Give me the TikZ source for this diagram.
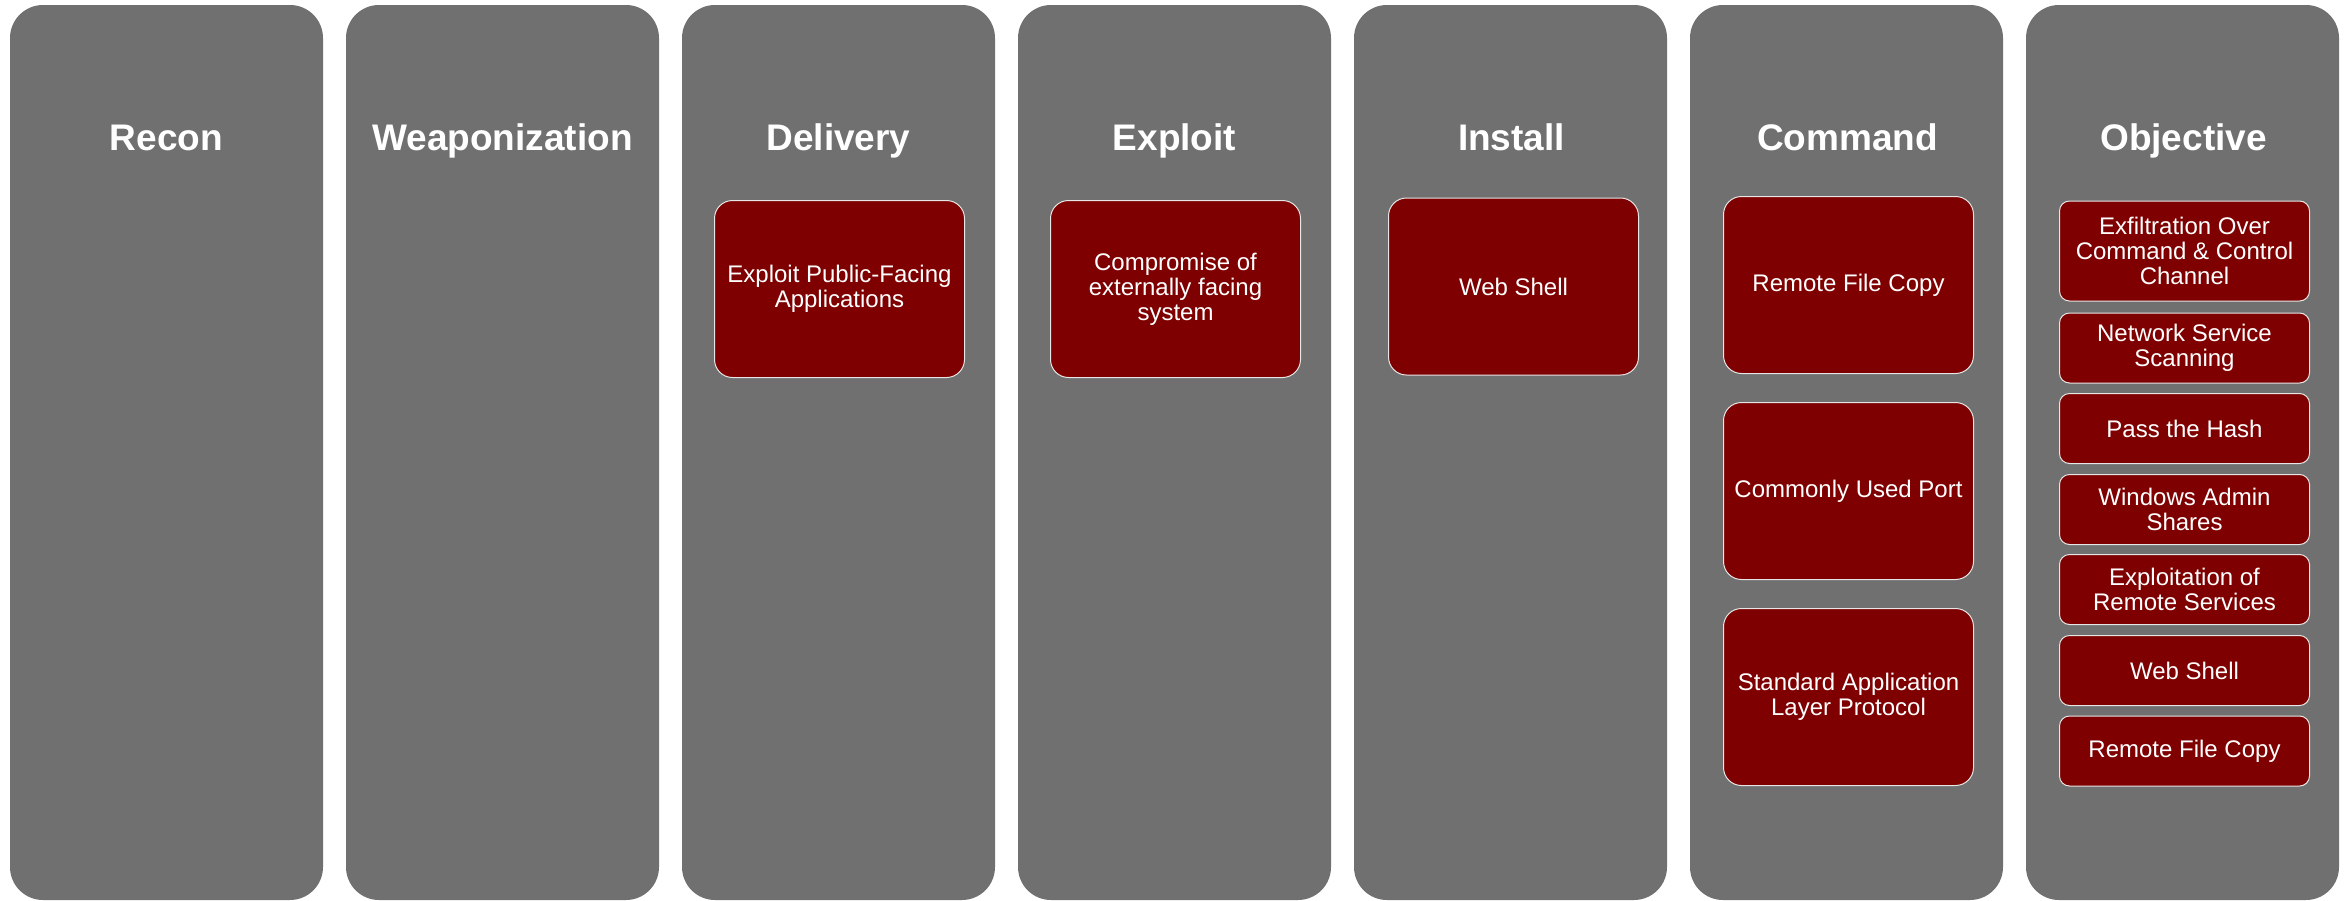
\documentclass[tikz,border=0pt]{standalone}
\usepackage{fontspec}
\setmainfont{Liberation Sans}
\definecolor{colgray}{HTML}{707070}
\definecolor{techred}{HTML}{7F0000}
\definecolor{edge}{HTML}{E6E6E6}
\begin{document}
\begin{tikzpicture}[x=1pt,y=-1pt,
  phase/.style={fill=colgray, draw=none, rounded corners=33pt,
    minimum width=313pt, minimum height=895pt, inner sep=0pt},
  title/.style={text=white, anchor=base, inner sep=0pt,
    font=\fontsize{37}{44}\selectfont\bfseries},
  tech/.style={fill=techred, draw=edge, line width=1pt, rounded corners=18pt,
    minimum width=250pt, minimum height=177pt, inner sep=0pt,
    text=white, align=center, font=\fontsize{24}{25}\selectfont},
  techsm/.style={tech, rounded corners=10pt, minimum height=70pt}]
\useasboundingbox (0,0) rectangle (2351,900);

% kill-chain phase columns
\node[phase] (recon)  at (166.5,452.5) {};
\node[phase] (weapon) at (502.5,452.5) {};
\node[phase] (deliv)  at (838.5,452.5) {};
\node[phase] (explo)  at (1174.5,452.5) {};
\node[phase] (inst)   at (1510.5,452.5) {};
\node[phase] (cmd)    at (1846.5,452.5) {};
\node[phase] (obj)    at (2182.5,452.5) {};

% phase titles
\node[title] (t1) at (166.5,150) {Recon};
\node[title] (t2) at (502.5,150) {Weaponization};
\node[title] (t3) at (838.5,150) {Delivery};
\node[title] (t4) at (1174.5,150) {Exploit};
\node[title] (t5) at (1511.5,150) {Install};
\node[title] (t6) at (1847.5,150) {Command};
\node[title] (t7) at (2183.5,150) {Objective};

% techniques
\node[tech] (d1) at (839.5,289) {Exploit Public-Facing\\Applications};
\node[tech] (e1) at (1175.5,289) {Compromise of\\externally facing\\system};
\node[tech] (i1) at (1513.5,286.5) {Web Shell};
\node[tech] (c1) at (1848.5,285) {Remote File Copy};
\node[tech] (c2) at (1848.5,491) {Commonly Used Port};
\node[tech] (c3) at (1848.5,697) {Standard Application\\Layer Protocol};

\node[techsm, minimum height=100pt] (o1) at (2184.5,251) {Exfiltration Over\\Command \& Control\\Channel};
\node[techsm] (o2) at (2184.5,348) {Network Service\\Scanning};
\node[techsm] (o3) at (2184.5,428.5) {Pass the Hash};
\node[techsm] (o4) at (2184.5,509.5) {Windows Admin\\Shares};
\node[techsm] (o5) at (2184.5,589.5) {Exploitation of\\Remote Services};
\node[techsm] (o6) at (2184.5,670.5) {Web Shell};
\node[techsm] (o7) at (2184.5,751) {Remote File Copy};
\end{tikzpicture}
\end{document}
